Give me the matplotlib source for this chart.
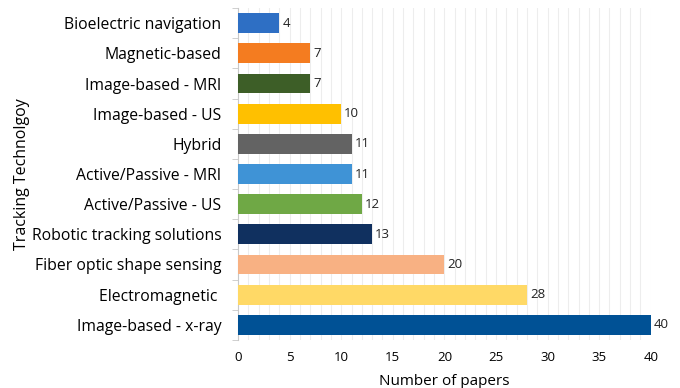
import numpy as np
import matplotlib.pyplot as plt

categories = [
    "Image-based - x-ray",
    "Electromagnetic ",
    "Fiber optic shape sensing",
    "Robotic tracking solutions",
    "Active/Passive - US",
    "Active/Passive - MRI",
    "Hybrid",
    "Image-based - US",
    "Image-based - MRI",
    "Magnetic-based",
    "Bioelectric navigation",
]
papers = [40, 28, 20, 13, 12, 11, 11, 10, 7, 7, 4]
colors = [
    "#005195", "#FFD966", "#F8B183", "#10305F", "#6FA845", "#3F93D6",
    "#636363", "#FFC000", "#3D5E27", "#F47C20", "#2E6FC4",
]

plt.rcParams["font.family"] = ["Open Sans", "DejaVu Sans"]

fig, ax = plt.subplots(figsize=(6.8, 3.88), dpi=100)
fig.subplots_adjust(left=0.35, right=0.957, top=0.979, bottom=0.124)

y = np.arange(len(categories))
ax.barh(y, papers, height=0.66, color=colors, zorder=3)
for yi, v in zip(y, papers):
    ax.text(v + 0.3, yi, str(v), va="center", ha="left", fontsize=9.5, color="#222222")

ax.set_yticks(y)
ax.set_yticklabels(categories, fontsize=11.3)
ax.set_ylim(-0.5, len(categories) - 0.5)
ax.set_yticks(np.arange(-0.5, len(categories), 1), minor=True)
ax.tick_params(axis="y", which="major", length=0, pad=12)
ax.tick_params(axis="y", which="minor", length=4, color="#C8C8C8")

ax.set_xlim(0, 40)
ax.set_xticks(np.arange(0, 41, 5))
ax.set_xticks(np.arange(0, 41, 1), minor=True)
ax.tick_params(axis="x", which="both", length=0, labelsize=9.5, pad=8)
ax.grid(axis="x", which="both", color="#EDEDED", linewidth=0.8, zorder=0)

for s in ["top", "right", "bottom"]:
    ax.spines[s].set_visible(False)
ax.spines["left"].set_color("#C8C8C8")

ax.set_xlabel("Number of papers", fontsize=11, labelpad=7)
ax.set_ylabel("Tracking Technolgoy", fontsize=11.5, labelpad=1)

fig.savefig("out.png", dpi=100)
